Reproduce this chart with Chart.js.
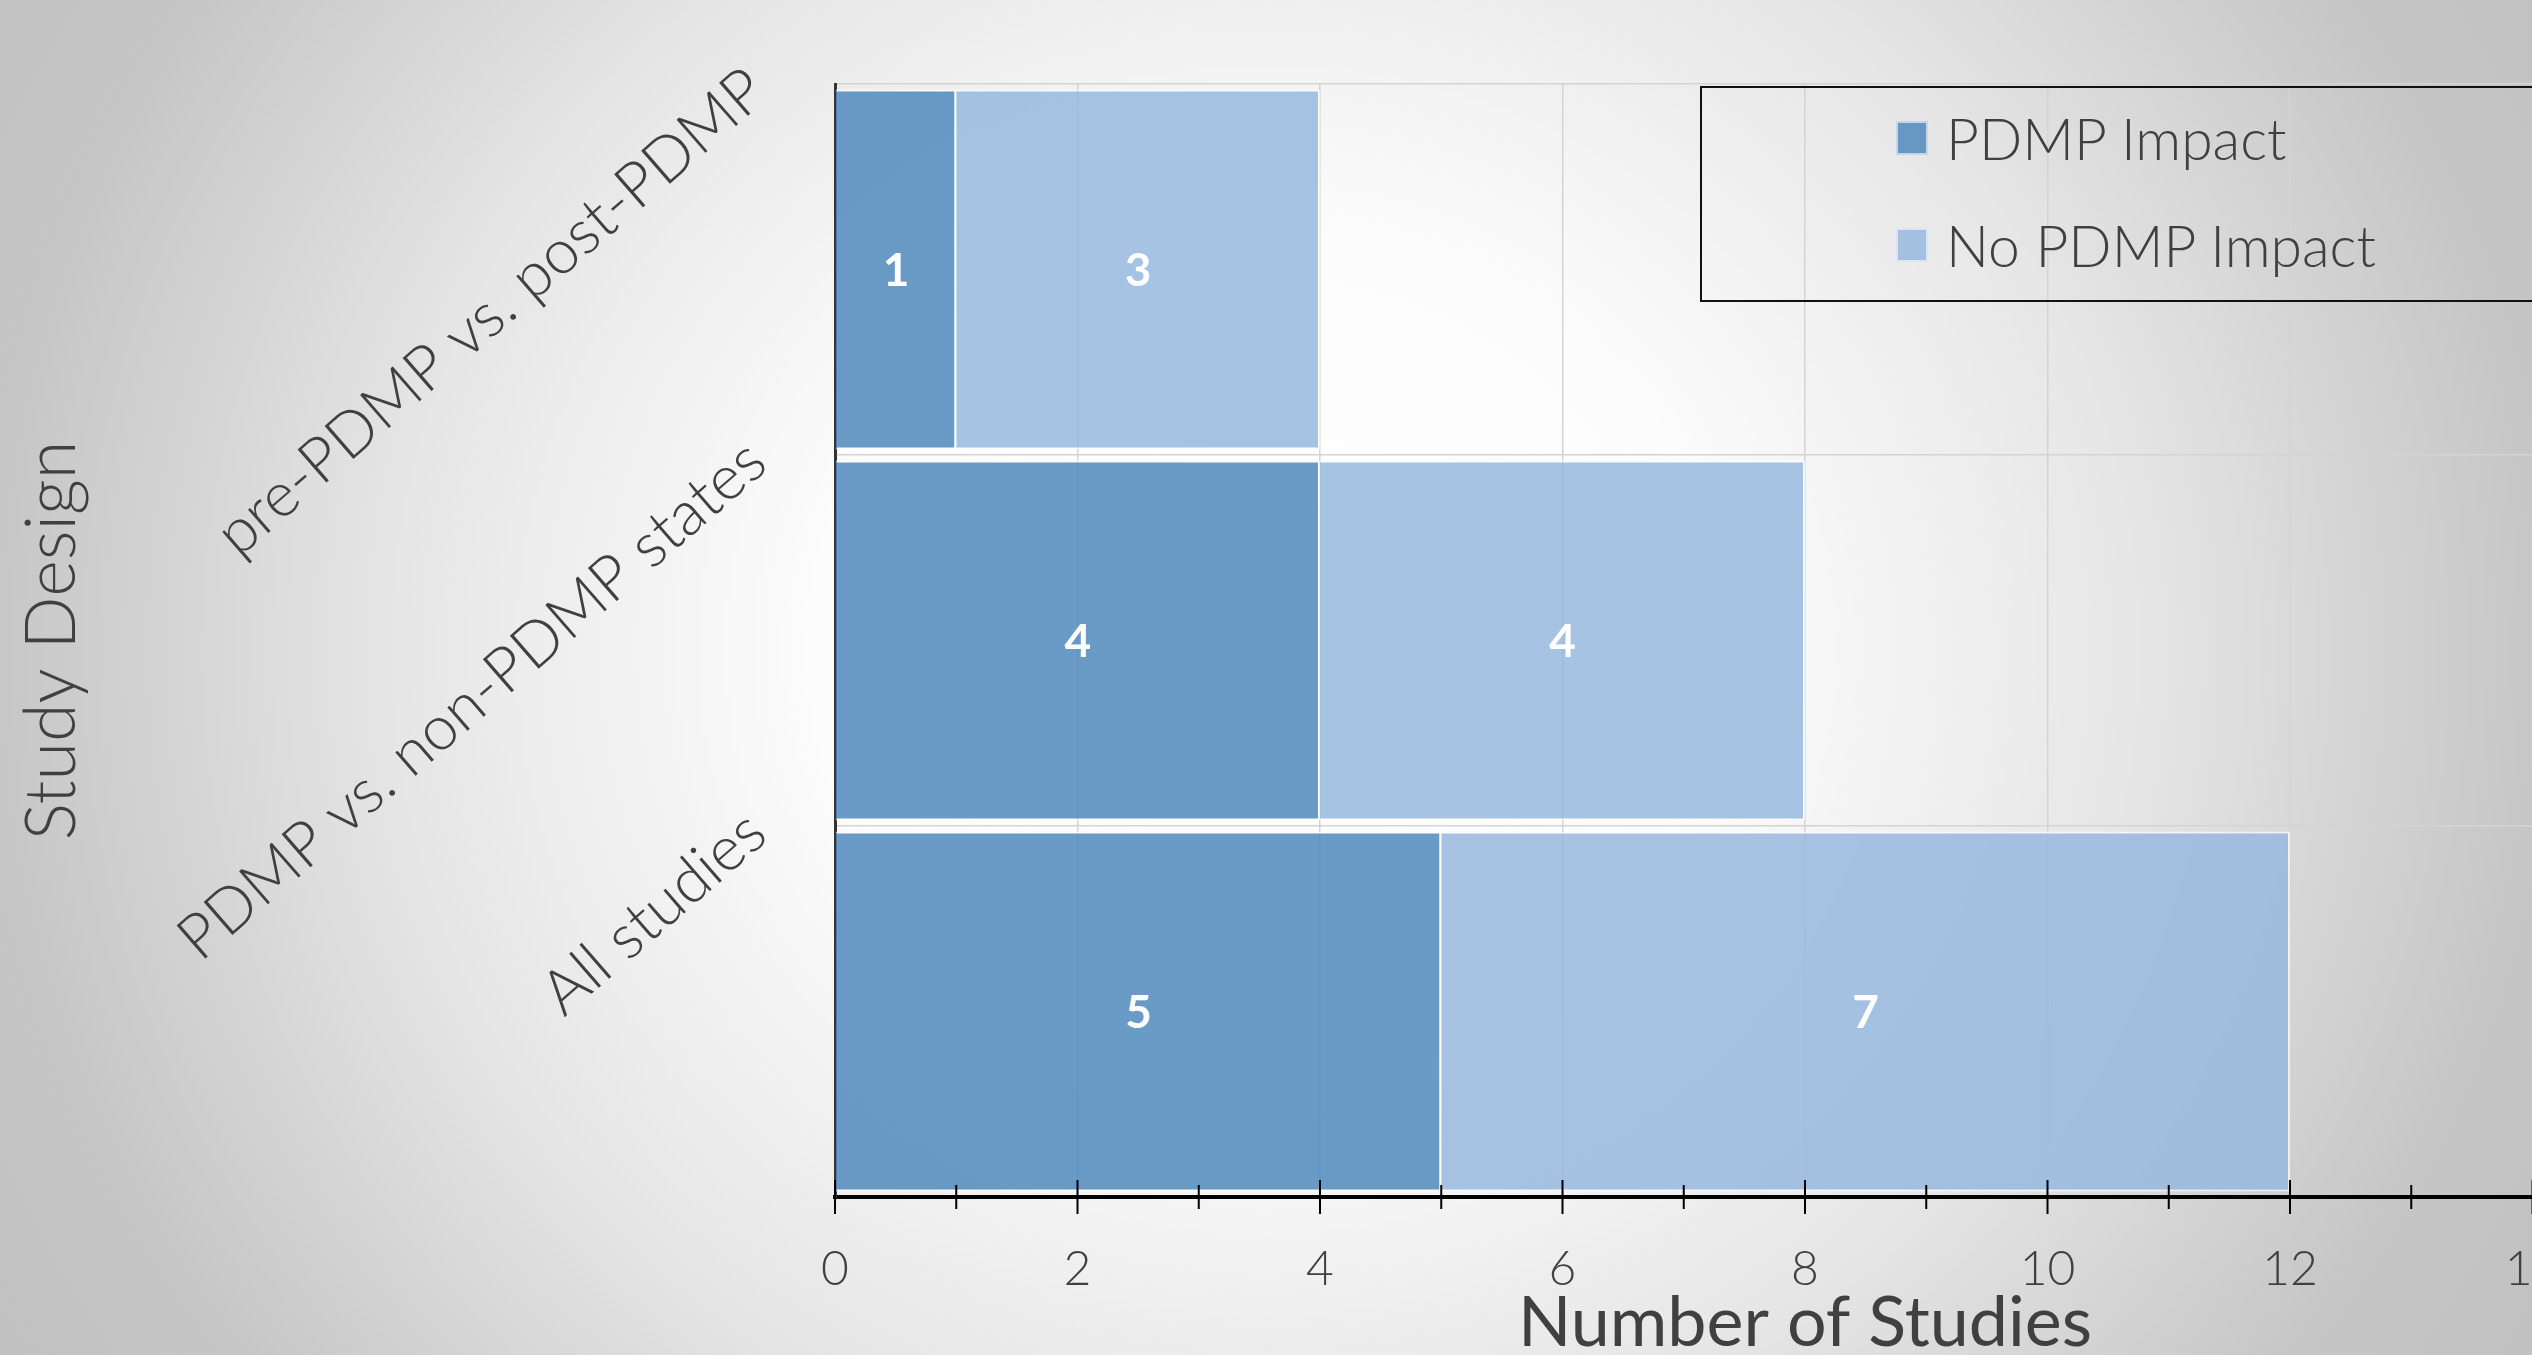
<!DOCTYPE html>
<html>
<head>
<meta charset="utf-8">
<title>Study Design - PDMP Impact</title>
<script src="https://cdn.jsdelivr.net/npm/chart.js@4.4.1/dist/chart.umd.min.js"></script>
<style>
  html, body { margin: 0; padding: 0; width: 2532px; height: 1355px; overflow: hidden; }
  body {
    position: relative;
    background: radial-gradient(ellipse 1500px 1400px at 50% 48%, #ffffff 0%, #fcfcfc 30%, #e6e6e6 58%, #c6c6c6 85%, #c0c0c0 100%);
    font-family: Lato, "Open Sans", sans-serif;
  }
  #studyChart { position: absolute; left: 0; top: 0; }
  #legend {
    position: absolute; left: 1700px; top: 86px; width: 1000px; height: 216px;
    border: 2px solid #111; box-sizing: border-box;
  }
  .item { position: absolute; left: 194px; display: flex; align-items: center; height: 60px;
    font-size: 57px; font-weight: 300; color: #404040; }
  .swatch { width: 32px; height: 34px; margin-right: 18px; box-sizing: border-box; border: 2px solid rgba(255,255,255,0.6); }
</style>
</head>
<body>
<canvas id="studyChart" width="2775" height="1365"></canvas>
<div id="legend"></div>
<script>
// categories, top to bottom
const studyDesigns = ['pre-PDMP vs. post-PDMP', 'PDMP vs. non-PDMP states', 'All studies'];
const seriesNames = ['PDMP Impact', 'No PDMP Impact'];
const pdmpImpact = [1, 4, 5];
const noPdmpImpact = [3, 4, 7];
const xMin = 0;
const xMax = 16;

const darkBlue = 'rgba(80, 137, 189, 0.85)';
const lightBlue = 'rgba(151, 184, 222, 0.85)';
const textGrey = '#404040';

// white value labels in the middle of every bar segment
const barLabels = {
  id: 'barLabels',
  afterDatasetsDraw(chart) {
    const ctx = chart.ctx;
    ctx.save();
    ctx.font = 'bold 46px Lato';
    ctx.fillStyle = '#ffffff';
    ctx.textAlign = 'center';
    ctx.textBaseline = 'middle';
    chart.data.datasets.forEach((ds, i) => {
      chart.getDatasetMeta(i).data.forEach((bar, j) => {
        const p = bar.getProps(['x', 'y', 'base'], true);
        ctx.fillText(ds.data[j], (p.x + p.base) / 2, p.y + 2);
      });
    });
    ctx.restore();
  }
};

// tick marks crossing the x axis (long on even values, short on odd)
const crossTicks = {
  id: 'crossTicks',
  afterDraw(chart) {
    const scale = chart.scales.x;
    const ctx = chart.ctx;
    const y0 = chart.chartArea.bottom;
    ctx.save();
    ctx.strokeStyle = '#000';
    ctx.lineWidth = 2;
    scale.ticks.forEach(t => {
      const px = scale.getPixelForValue(t.value);
      const h = t.value % 2 === 0 ? 17 : 12;
      ctx.beginPath();
      ctx.moveTo(px, y0 - h);
      ctx.lineTo(px, y0 + h);
      ctx.stroke();
    });
    ctx.restore();
  }
};

const chart = new Chart(document.getElementById('studyChart'), {
  type: 'bar',
  data: {
    labels: studyDesigns,
    datasets: [
      { label: seriesNames[0], data: pdmpImpact, backgroundColor: darkBlue,
        borderColor: 'rgba(255,255,255,0.65)', borderWidth: 2 },
      { label: seriesNames[1], data: noPdmpImpact, backgroundColor: lightBlue,
        borderColor: 'rgba(255,255,255,0.65)', borderWidth: 2 }
    ]
  },
  options: {
    indexAxis: 'y',
    responsive: false,
    animation: false,
    layout: { padding: { top: 84, right: 0, left: 0, bottom: 0 } },
    datasets: { bar: { barPercentage: 0.97, categoryPercentage: 1.0 } },
    plugins: {
      legend: { display: false },
      tooltip: { enabled: false }
    },
    scales: {
      x: {
        stacked: true,
        min: xMin,
        max: xMax,
        afterFit: s => { s.height = 168; s.paddingLeft = 0; s.paddingRight = 0; },
        grid: {
          color: c => (c.tick && c.tick.value % 2 === 0) ? '#d4d4d4' : 'transparent',
          lineWidth: 1.5,
          drawTicks: false
        },
        border: { color: '#000', width: 4 },
        ticks: {
          stepSize: 1,
          autoSkip: false,
          maxRotation: 0,
          padding: 44,
          color: textGrey,
          font: { family: 'Lato', size: 48, weight: 300 },
          callback: v => (v % 2 === 0 ? v : '')
        },
        title: {
          display: true,
          text: 'Number of Studies',
          color: textGrey,
          font: { family: 'Lato', size: 70, weight: 400 },
          padding: { top: 0, bottom: 0 }
        }
      },
      y: {
        stacked: true,
        afterFit: s => { s.width = 835; s.paddingTop = 0; s.paddingBottom = 0; },
        grid: { color: '#d4d4d4', lineWidth: 1.5, drawTicks: false },
        border: { color: '#333', width: 3 },
        ticks: {
          minRotation: 41,
          maxRotation: 41,
          padding: 78,
          labelOffset: -188,
          color: textGrey,
          font: { family: 'Lato', size: 62, weight: 300 }
        },
        title: {
          display: true,
          text: 'Study Design',
          color: textGrey,
          font: { family: 'Lato', size: 70, weight: 300 },
          padding: { top: 10, bottom: 0 }
        }
      }
    }
  },
  plugins: [barLabels, crossTicks]
});

// legend box built from the chart's datasets
const legendBox = document.getElementById('legend');
chart.data.datasets.forEach((ds, i) => {
  const row = document.createElement('div');
  row.className = 'item';
  row.style.top = (20 + i * 107) + 'px';
  row.innerHTML = `<span class="swatch" style="background:${ds.backgroundColor}"></span>${ds.label}`;
  legendBox.appendChild(row);
});
</script>
</body>
</html>
